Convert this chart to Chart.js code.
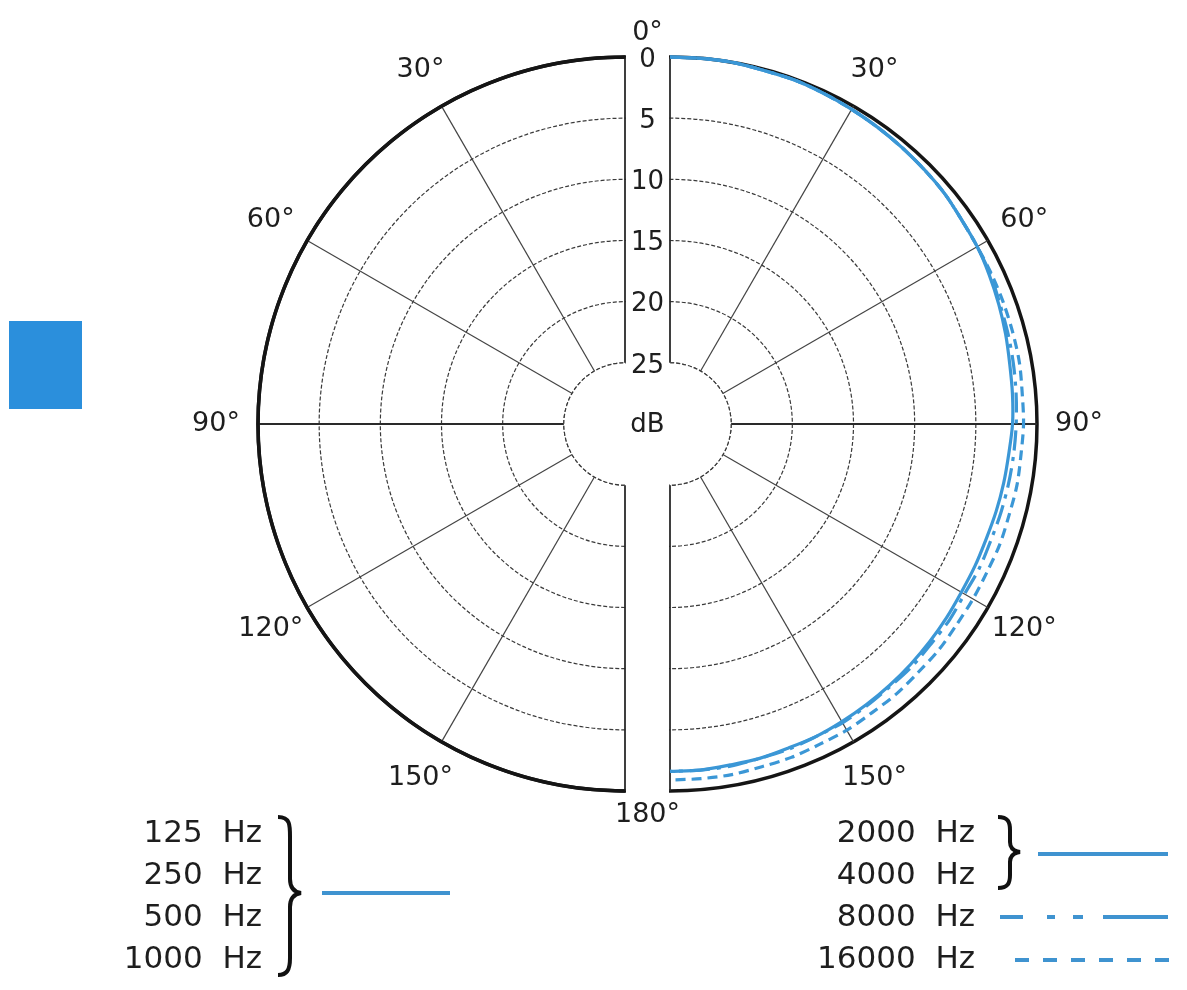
<!DOCTYPE html>
<html>
<head>
<meta charset="utf-8">
<script src="https://cdn.jsdelivr.net/npm/chart.js@4.4.1/dist/chart.umd.min.js"></script>
<style>
  body { margin: 0; background: #fff; }
  #page { position: relative; width: 1187px; height: 990px; overflow: hidden; font-family: "DejaVu Sans", sans-serif; color: #1e1e1e; }
  #page canvas { position: absolute; top: 4px; }
  #leftChart { left: 155px; }
  #rightChart { left: 200px; }
  .swatch { position: absolute; left: 9px; top: 321px; width: 73px; height: 88px; background: #2b8fdc; }
  .legend { position: absolute; top: 810px; font-size: 31px; line-height: 42px; text-align: right; white-space: pre; }
  svg { position: absolute; left: 0; top: 0; }
</style>
</head>
<body>
<div id="page">
  <div class="swatch"></div>
  <canvas id="leftChart" width="940" height="840"></canvas>
  <canvas id="rightChart" width="940" height="840"></canvas>
  <div class="legend" style="right:925px">125  Hz
250  Hz
500  Hz
1000  Hz</div>
  <div class="legend" style="right:212px">2000  Hz
4000  Hz
8000  Hz
16000  Hz</div>
  <svg width="1187" height="990">
    <path d="M278,817 C291,817 290,826 290,840 L290,879 C290,888 294,892 301,893 C294,894 290,898 290,907 L290,958 C290,970 287,975 278,975" fill="none" stroke="#111" stroke-width="4"/>
    <line x1="322" y1="893" x2="450" y2="893" stroke="#3f93d0" stroke-width="4"/>
    <path d="M998,817 C1008,817 1010,822 1010,830 L1010,842 C1010,848 1013,851 1020,852 C1013,853 1010,856 1010,862 L1010,875 C1010,883 1008,888 998,888" fill="none" stroke="#111" stroke-width="4"/>
    <line x1="1038" y1="854" x2="1168" y2="854" stroke="#3f93d0" stroke-width="4"/>
    <line x1="1000" y1="917" x2="1168" y2="917" stroke="#3f93d0" stroke-width="4" stroke-dasharray="23 24 8 18 10 20 65"/>
    <line x1="1015" y1="960" x2="1170" y2="960" stroke="#3f93d0" stroke-width="4" stroke-dasharray="14 14"/>
  </svg>
</div>
<script>
// angles every 5 degrees, 0 at the top, clockwise
const angleLabels = [];
for (let a = 0; a < 360; a += 5) angleLabels.push(a);

// dB scale
const dbTicks = [0, 5, 10, 15, 20, 25];

// right half, 0..180 deg in 5 deg steps (dB)
const hz2000_4000 = [0, 0, 0, -0.1, -0.1, -0.2, -0.3, -0.4, -0.5, -0.6, -0.7, -0.9, -1.0, -1.2, -1.4, -1.6, -1.8, -1.9, -2.0,
  -2.2, -2.3, -2.4, -2.5, -2.5, -2.5, -2.4, -2.3, -2.2, -2.1, -2.0, -1.9, -1.8, -1.8, -1.7, -1.7, -1.6, -1.6];
const hz8000 = [0, 0, 0, -0.1, -0.1, -0.2, -0.3, -0.4, -0.5, -0.6, -0.7, -0.9, -1.0, -1.1, -1.3, -1.4, -1.5, -1.6, -1.7,
  -1.8, -1.9, -2.0, -2.1, -2.1, -2.2, -2.1, -2.1, -2.0, -2.0, -1.9, -1.8, -1.8, -1.7, -1.7, -1.6, -1.6, -1.6];
const hz16000 = [0, 0, 0, -0.1, -0.1, -0.2, -0.3, -0.4, -0.5, -0.6, -0.7, -0.9, -1.0, -1.0, -1.0, -1.0, -1.0, -1.1, -1.1,
  -1.2, -1.2, -1.3, -1.3, -1.4, -1.4, -1.4, -1.3, -1.3, -1.2, -1.2, -1.1, -1.1, -1.0, -1.0, -0.9, -0.9, -0.9];

// left half, 180..360 deg in 5 deg steps (125 / 250 / 500 / 1000 Hz)
const hzLow = [0, 0, 0, 0, 0, 0, 0, 0, 0, 0, 0, 0, 0, 0, 0, 0, 0, 0, 0,
  0, 0, 0, 0, 0, 0, 0, 0, 0, 0, 0, 0, 0, 0, 0, 0, 0, 0];

const BLUE = '#3b97d6';

function rightHalf(values) {
  return angleLabels.map(a => (a <= 180 ? values[a / 5] : null));
}
function leftHalf(values) {
  return angleLabels.map(a => (a >= 180 ? values[(a - 180) / 5] : (a === 0 ? values[36] : null)));
}

function halfPlugin(side) {
  return {
    id: 'half_' + side,
    beforeDraw(chart) {
      const s = chart.scales.r;
      const ctx = chart.ctx;
      ctx.save();
      ctx.beginPath();
      if (side === 'right') ctx.rect(s.xCenter - 1, 0, chart.width, chart.height);
      else ctx.rect(0, 0, s.xCenter + 1, chart.height);
      ctx.clip();
    },
    afterDatasetsDraw(chart) {
      const s = chart.scales.r;
      const ctx = chart.ctx;
      // centre hole
      const rh = s.getDistanceFromCenterForValue(-25);
      ctx.beginPath();
      ctx.arc(s.xCenter, s.yCenter, rh, 0, Math.PI * 2);
      ctx.fillStyle = '#fff';
      ctx.fill();
      ctx.setLineDash([4, 2]);
      ctx.strokeStyle = '#3a3a3a';
      ctx.lineWidth = 1.2;
      ctx.stroke();
      ctx.restore();
    },
    afterDraw(chart) {
      const s = chart.scales.r;
      const ctx = chart.ctx;
      const R = s.drawingArea;
      ctx.save();
      ctx.fillStyle = '#1e1e1e';
      ctx.textAlign = 'center';
      ctx.textBaseline = 'middle';
      ctx.font = '27px "DejaVu Sans"';
      angleLabels.forEach((a, i) => {
        if (a % 30 !== 0 || a === 0 || a === 180) return;
        if (side === 'right' && a > 180) return;
        if (side === 'left' && a < 180) return;
        const p = s.getPointPosition(i, R + 42);
        ctx.fillText((a <= 180 ? a : 360 - a) + '°', p.x, p.y);
      });
      if (side === 'right') {
        const x = s.xCenter - 22.5;
        ctx.fillText('0°', x, s.yCenter - R - 24);
        ctx.fillText('180°', x, s.yCenter + R + 24);
        ctx.font = '26px "DejaVu Sans"';
        dbTicks.forEach(t => {
          ctx.fillText(String(t), x, s.yCenter - s.getDistanceFromCenterForValue(-t) + 3);
        });
        ctx.fillText('dB', x, s.yCenter + 1);
      }
      ctx.restore();
    }
  };
}

function radialScale() {
  return {
    min: -30,
    max: 0,
    ticks: { display: false, stepSize: 5 },
    pointLabels: { display: false },
    grid: {
      circular: true,
      color: ctx => (ctx.tick && ctx.tick.value === 0 ? '#151515' : (ctx.tick && ctx.tick.value === -30 ? 'transparent' : '#3a3a3a')),
      lineWidth: ctx => (ctx.tick && ctx.tick.value === 0 ? 3.5 : 1.2)
    },
    border: {
      dash: ctx => (ctx.tick && ctx.tick.value === 0 ? [] : [4, 2])
    },
    angleLines: {
      color: ctx => (ctx.index % 6 === 0 ? (ctx.index % 18 === 0 ? '#2a2a2a' : '#444') : 'transparent'),
      lineWidth: ctx => (ctx.index % 6 === 0 ? (ctx.index % 18 === 0 ? 1.8 : 1.2) : 0)
    }
  };
}

function baseOptions() {
  return {
    responsive: false,
    animation: false,
    layout: { padding: { left: 103, right: 103, top: 53, bottom: 53 } },
    plugins: { legend: { display: false }, tooltip: { enabled: false } },
    elements: { point: { radius: 0 }, line: { tension: 0.3 } },
    scales: { r: radialScale() }
  };
}

new Chart(document.getElementById('rightChart'), {
  type: 'radar',
  data: {
    labels: angleLabels,
    datasets: [
      { label: '16000 Hz', data: rightHalf(hz16000), borderColor: BLUE, borderWidth: 3.2, borderDash: [10, 6], fill: false, clip: false },
      { label: '8000 Hz', data: rightHalf(hz8000), borderColor: BLUE, borderWidth: 3.2, borderDash: [20, 7, 4, 7], fill: false, clip: false },
      { label: '2000 Hz / 4000 Hz', data: rightHalf(hz2000_4000), borderColor: BLUE, borderWidth: 3.2, fill: false, clip: false }
    ]
  },
  options: baseOptions(),
  plugins: [halfPlugin('right')]
});

new Chart(document.getElementById('leftChart'), {
  type: 'radar',
  data: {
    labels: angleLabels,
    datasets: [
      { label: '125 / 250 / 500 / 1000 Hz', data: leftHalf(hzLow), borderColor: '#151515', borderWidth: 3.5, fill: false, clip: false }
    ]
  },
  options: baseOptions(),
  plugins: [halfPlugin('left')]
});
</script>
</body>
</html>
